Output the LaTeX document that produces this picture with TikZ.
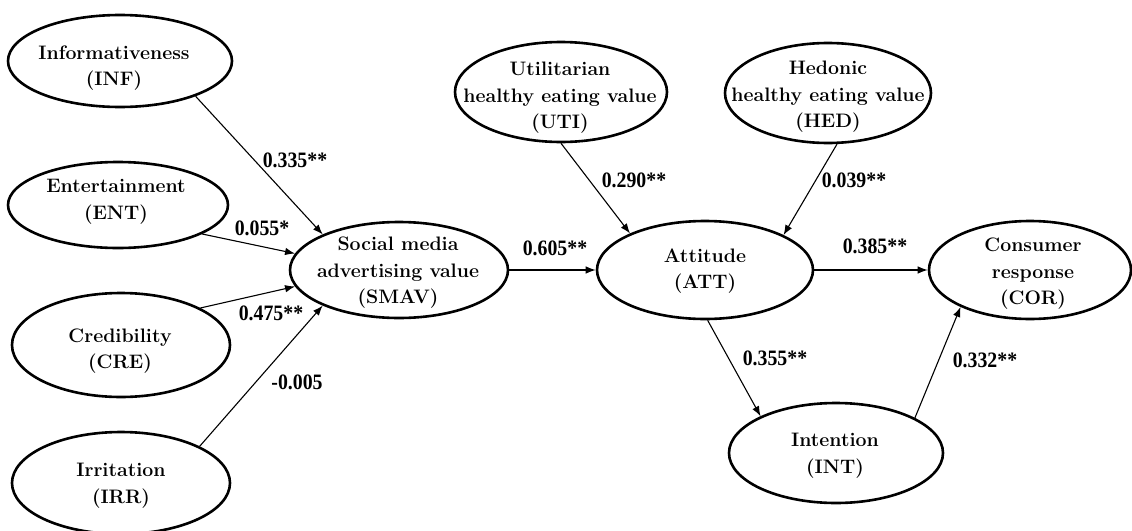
\documentclass[tikz,border=0pt]{standalone}
\usepackage{fontspec}
\newfontfamily\lblfont{Liberation Serif}
\usetikzlibrary{arrows.meta,shapes.geometric}
\tikzset{
 ell/.style={draw, ellipse, line width=2.6pt, inner sep=0pt},
 ttl/.style={align=center, inner sep=0pt, font=\fontsize{19.5}{26.5}\selectfont\bfseries},
 arr/.style={-{Latex[length=10pt,width=7.5pt]}, line width=1.1pt},
 lbl/.style={font=\lblfont\fontsize{22}{24}\selectfont\bfseries, inner sep=0pt},
}
\newcommand{\lbtxt}[1]{\scalebox{0.9}[1]{#1}}
\begin{document}
\begin{tikzpicture}[x=1pt,y=-1pt]
\useasboundingbox (0,0) rectangle (1132,530);
% ellipses
\node[ell, minimum width=224pt, minimum height=92pt] (inf) at (120,61) {};
\node[ell, minimum width=220pt, minimum height=86pt] (ent) at (118,205) {};
\node[ell, minimum width=218pt, minimum height=104pt] (cre) at (121,345) {};
\node[ell, minimum width=218pt, minimum height=102pt] (irr) at (121,483) {};
\node[ell, minimum width=218pt, minimum height=96pt] (smav) at (399,270) {};
\node[ell, minimum width=212pt, minimum height=100pt] (uti) at (561,92) {};
\node[ell, minimum width=206pt, minimum height=100pt] (hed) at (828,93) {};
\node[ell, minimum width=216pt, minimum height=98pt] (att) at (705,270) {};
\node[ell, minimum width=202pt, minimum height=98pt] (cor) at (1030,270) {};
\node[ell, minimum width=214pt, minimum height=100pt] (int) at (836,453) {};
% texts
\node[ttl] (inf-t) at (114,68) {Informativeness\\(INF)};
\node[ttl] (ent-t) at (116,202) {Entertainment\\(ENT)};
\node[ttl] (cre-t) at (120,351) {Credibility\\(CRE)};
\node[ttl] (irr-t) at (121,486) {Irritation\\(IRR)};
\node[ttl] (smav-t) at (398,273) {Social media\\advertising value\\(SMAV)};
\node[ttl] (uti-t) at (560,98) {Utilitarian\\healthy eating value\\(UTI)};
\node[ttl] (hed-t) at (828,97) {Hedonic\\healthy eating value\\(HED)};
\node[ttl] (att-t) at (705,271) {Attitude\\(ATT)};
\node[ttl] (cor-t) at (1033,274) {Consumer\\response\\(COR)};
\node[ttl] (int-t) at (835,456) {Intention\\(INT)};
% connectors
\draw[arr] (inf.-25) -- (smav.155.6);
\draw[arr] (ent.-19.5) -- (smav.171.8);
\draw[arr] (cre.25) -- (smav.189.8);
\draw[arr] (irr.25.7) -- (smav.205.7);
\draw[arr] (smav.east) -- (att.west);
\draw[arr] (uti.south) -- (att.154.4);
\draw[arr] (hed.-80) -- (att.24.2);
\draw[arr] (att.east) -- (cor.west);
\draw[arr] (att.-87) -- (int.154);
\draw[arr] (int.24.5) -- (cor.208);
% labels
\node[lbl] (l1) at (295,160) {\lbtxt{0.335**}};
\node[lbl] (l2) at (262,228) {\lbtxt{0.055*}};
\node[lbl] (l3) at (271,313) {\lbtxt{0.475**}};
\node[lbl] (l4) at (297,382) {\lbtxt{-0.005}};
\node[lbl] (l5) at (555,248) {\lbtxt{0.605**}};
\node[lbl] (l6) at (634,180) {\lbtxt{0.290**}};
\node[lbl] (l7) at (854,180) {\lbtxt{0.039**}};
\node[lbl] (l8) at (875,246) {\lbtxt{0.385**}};
\node[lbl] (l9) at (775,358) {\lbtxt{0.355**}};
\node[lbl] (l10) at (985,360) {\lbtxt{0.332**}};
\end{tikzpicture}
\end{document}
